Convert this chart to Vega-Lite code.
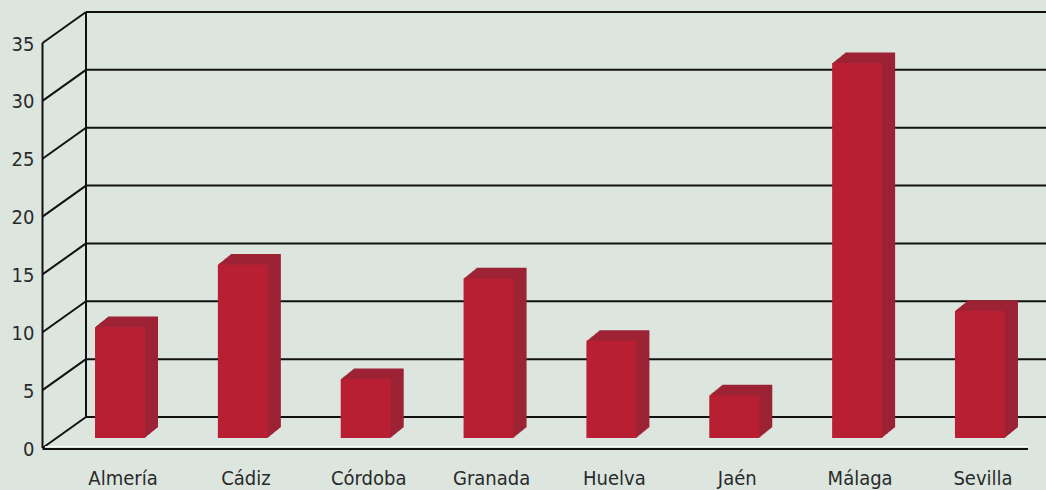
{
  "$schema": "https://vega.github.io/schema/vega-lite/v6.json",
  "width": 988,
  "height": 405,
  "autosize": "none",
  "padding": {"left": 56, "top": 33, "right": 2, "bottom": 52},
  "background": "#dce6df",
  "config": {
    "view": {"stroke": null},
    "font": "DejaVu Sans Condensed, Liberation Sans",
    "axisY": {"domain": false, "ticks": false, "grid": false, "tickCount": 8, "labelFontSize": 20, "labelColor": "#2a2a2a", "labelPadding": 22, "labelOffset": 11, "labelFont": "DejaVu Sans Condensed, Liberation Sans"},
    "axisX": {"domain": false, "ticks": false, "grid": false, "labelAngle": 0, "labelFontSize": 20, "labelColor": "#2a2a2a", "labelPadding": 30, "labelOffset": 3, "labelFont": "DejaVu Sans Condensed, Liberation Sans"}
  },
  "datasets": {
    "ticks": [{"v": 0}, {"v": 5}, {"v": 10}, {"v": 15}, {"v": 20}, {"v": 25}, {"v": 30}, {"v": 35}],
    "frame": [{"lo": 0, "hi": 35}],
    "bars": [
      {"provincia": "Almería", "valor": 9.6},
      {"provincia": "Cádiz", "valor": 15.0},
      {"provincia": "Córdoba", "valor": 5.1},
      {"provincia": "Granada", "valor": 13.8},
      {"provincia": "Huelva", "valor": 8.4},
      {"provincia": "Jaén", "valor": 3.7},
      {"provincia": "Málaga", "valor": 32.4},
      {"provincia": "Sevilla", "valor": 11.0}
    ]
  },
  "layer": [
    {
      "data": {"name": "ticks"},
      "mark": {"type": "rule", "color": "#111111", "strokeWidth": 2, "xOffset": 30, "x2Offset": 30, "yOffset": -21, "y2Offset": -21},
      "encoding": {
        "x": {"value": 0},
        "x2": {"value": "width"},
        "y": {"field": "v", "type": "quantitative", "title": null, "scale": {"domain": [0, 35], "nice": false}}
      }
    },
    {
      "data": {"name": "ticks"},
      "mark": {"type": "rule", "color": "#111111", "strokeWidth": 2, "xOffset": -13.5, "x2Offset": 30, "yOffset": 10, "y2Offset": -21},
      "encoding": {
        "x": {"value": 0},
        "x2": {"value": 0},
        "y": {"field": "v", "type": "quantitative", "title": null, "scale": {"domain": [0, 35], "nice": false}},
        "y2": {"field": "v"}
      }
    },
    {
      "data": {"name": "frame"},
      "mark": {"type": "rule", "color": "#111111", "strokeWidth": 2, "xOffset": -13.5, "yOffset": 10, "y2Offset": 10},
      "encoding": {
        "x": {"value": 0},
        "y": {"field": "lo", "type": "quantitative", "title": null, "scale": {"domain": [0, 35], "nice": false}},
        "y2": {"field": "hi"}
      }
    },
    {
      "data": {"name": "frame"},
      "mark": {"type": "rule", "color": "#111111", "strokeWidth": 2, "xOffset": 30, "yOffset": -21, "y2Offset": -20},
      "encoding": {
        "x": {"value": 0},
        "y": {"field": "lo", "type": "quantitative", "title": null, "scale": {"domain": [0, 35], "nice": false}},
        "y2": {"field": "hi"}
      }
    },
    {
      "data": {"name": "frame"},
      "mark": {"type": "rule", "color": "#ffffff", "strokeWidth": 1, "opacity": 0.9, "xOffset": -11, "x2Offset": -16, "yOffset": 8.5, "y2Offset": 8.5},
      "encoding": {
        "x": {"value": 0},
        "x2": {"value": "width"},
        "y": {"field": "lo", "type": "quantitative", "title": null, "scale": {"domain": [0, 35], "nice": false}}
      }
    },
    {
      "data": {"name": "frame"},
      "mark": {"type": "rule", "color": "#111111", "strokeWidth": 2, "xOffset": -13.5, "x2Offset": -16, "yOffset": 11, "y2Offset": 11},
      "encoding": {
        "x": {"value": 0},
        "x2": {"value": "width"},
        "y": {"field": "lo", "type": "quantitative", "title": null, "scale": {"domain": [0, 35], "nice": false}}
      }
    },
    {
      "data": {"name": "bars"},
      "encoding": {
        "x": {
          "field": "provincia", "type": "nominal", "sort": null, "title": null,
          "scale": {"paddingInner": 0.593, "paddingOuter": 0.3176}
        },
        "y": {
          "field": "valor", "type": "quantitative", "title": null,
          "scale": {"domain": [0, 35], "nice": false}
        }
      },
      "layer": [
        {"mark": {"type": "bar", "color": "#9c2335", "xOffset": 13, "x2Offset": 13, "yOffset": -10.5, "y2Offset": -10.5}},
        {"mark": {"type": "bar", "color": "#9c2335", "xOffset": 12, "x2Offset": 12, "yOffset": -9.69, "y2Offset": -9.69}},
        {"mark": {"type": "bar", "color": "#9c2335", "xOffset": 11, "x2Offset": 11, "yOffset": -8.88, "y2Offset": -8.88}},
        {"mark": {"type": "bar", "color": "#9c2335", "xOffset": 10, "x2Offset": 10, "yOffset": -8.08, "y2Offset": -8.08}},
        {"mark": {"type": "bar", "color": "#9c2335", "xOffset": 9, "x2Offset": 9, "yOffset": -7.27, "y2Offset": -7.27}},
        {"mark": {"type": "bar", "color": "#9c2335", "xOffset": 8, "x2Offset": 8, "yOffset": -6.46, "y2Offset": -6.46}},
        {"mark": {"type": "bar", "color": "#9c2335", "xOffset": 7, "x2Offset": 7, "yOffset": -5.65, "y2Offset": -5.65}},
        {"mark": {"type": "bar", "color": "#9c2335", "xOffset": 6, "x2Offset": 6, "yOffset": -4.85, "y2Offset": -4.85}},
        {"mark": {"type": "bar", "color": "#9c2335", "xOffset": 5, "x2Offset": 5, "yOffset": -4.04, "y2Offset": -4.04}},
        {"mark": {"type": "bar", "color": "#9c2335", "xOffset": 4, "x2Offset": 4, "yOffset": -3.23, "y2Offset": -3.23}},
        {"mark": {"type": "bar", "color": "#9c2335", "xOffset": 3, "x2Offset": 3, "yOffset": -2.42, "y2Offset": -2.42}},
        {"mark": {"type": "bar", "color": "#9c2335", "xOffset": 2, "x2Offset": 2, "yOffset": -1.62, "y2Offset": -1.62}},
        {"mark": {"type": "bar", "color": "#9c2335", "xOffset": 1, "x2Offset": 1, "yOffset": -0.81, "y2Offset": -0.81}},
        {"mark": {"type": "bar", "color": "#b81f32"}}
      ]
    }
  ]
}
